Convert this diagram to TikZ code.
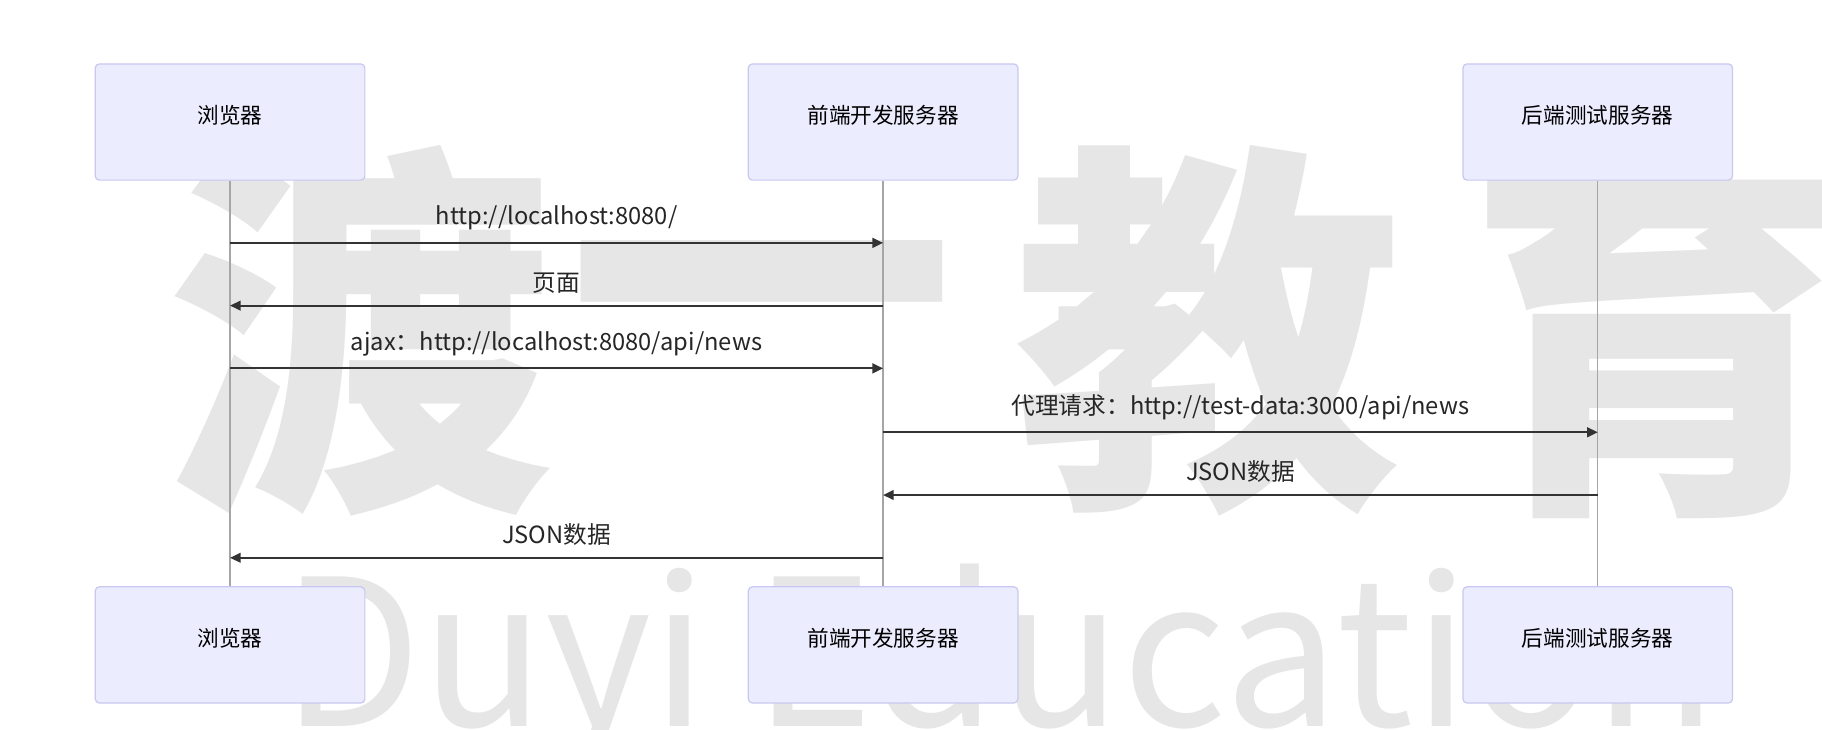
\documentclass[tikz,border=0pt]{standalone}
\usepackage{fontspec}
\setmainfont{Noto Sans CJK SC}
\usetikzlibrary{arrows.meta}
\definecolor{boxfill}{HTML}{ECECFF}
\definecolor{boxline}{HTML}{C8C8F0}
\definecolor{wm}{HTML}{E6E6E6}
\tikzset{actor/.style={draw=boxline,fill=boxfill,rounded corners=1pt,minimum width=232*0.1mm,minimum height=100*0.1mm,line width=0.3pt},
actxt/.style={font=\fontsize{5.3pt}{6pt}\selectfont},
msg/.style={draw=black!80,line width=0.45pt,-{Triangle[length=2.6pt,width=2.4pt]}},
lbl/.style={font=\fontsize{5.8pt}{7pt}\selectfont,text=black!85,above=-0.5pt},
life/.style={draw=black!35,line width=0.35pt},
wmk/.style={text=wm,font=\bfseries\fontsize{95pt}{95pt}\selectfont}}
\begin{document}
\begin{tikzpicture}[x=0.1mm,y=-0.1mm]
\useasboundingbox[fill=white] (0,0) rectangle (1568,628);
\node[wmk] (w1) at (310,285) {渡};
\node[wmk] (w2) at (655,285) {一};
\node[wmk] (w3) at (1040,285) {教};
\node[wmk] (w4) at (1430,285) {育};
\node[text=wm,font=\fontsize{50pt}{50pt}\selectfont,anchor=base] (w5) at (860,625) {Duyi Education};
\node[actor] (a1) at (198,105) {};
\node[actor] (b1) at (760,105) {};
\node[actor] (c1) at (1375,105) {};
\node[actor] (a2) at (198,555) {};
\node[actor] (b2) at (760,555) {};
\node[actor] (c2) at (1375,555) {};
\node[actxt] (ta1) at (198,99) {浏览器};
\node[actxt] (tb1) at (760,99) {前端开发服务器};
\node[actxt] (tc1) at (1375,99) {后端测试服务器};
\node[actxt] (ta2) at (198,549) {浏览器};
\node[actxt] (tb2) at (760,549) {前端开发服务器};
\node[actxt] (tc2) at (1375,549) {后端测试服务器};
\draw[life] (a1) -- (a2); \draw[life] (b1) -- (b2); \draw[life] (c1) -- (c2);
\foreach \y/\n in {209/1,263/2,317/3,372/4,426/5,480/6}{
 \coordinate (pa\n) at (198,\y); \coordinate (pb\n) at (760,\y); \coordinate (pc\n) at (1375,\y);}
\draw[msg] (pa1) -- node[lbl]{http://localhost:8080/} (pb1);
\draw[msg] (pb2) -- node[lbl]{页面} (pa2);
\draw[msg] (pa3) -- node[lbl]{ajax：http://localhost:8080/api/news} (pb3);
\draw[msg] (pb4) -- node[lbl]{代理请求：http://test-data:3000/api/news} (pc4);
\draw[msg] (pc5) -- node[lbl]{JSON数据} (pb5);
\draw[msg] (pb6) -- node[lbl]{JSON数据} (pa6);
\end{tikzpicture}
\end{document}
